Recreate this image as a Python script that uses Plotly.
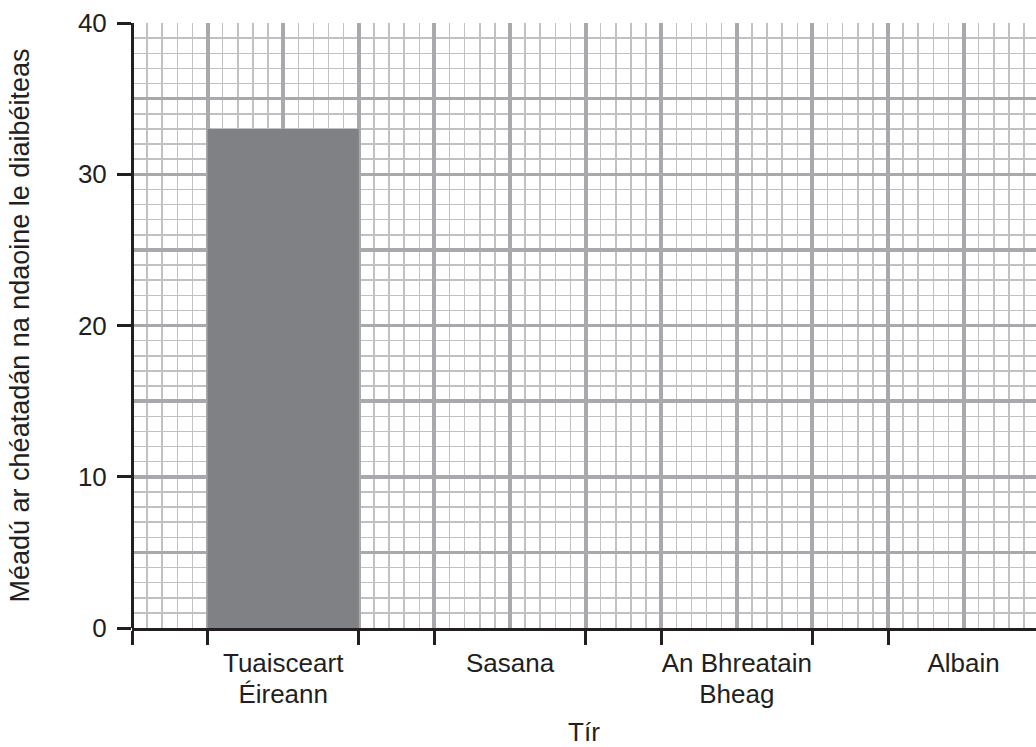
import plotly.graph_objects as go

# ---- data ----
countries = ["Tuaisceart Éireann", "Sasana", "An Bhreatain Bheag", "Albain"]
label_line1 = ["Tuaisceart", "Sasana", "An Bhreatain", "Albain"]
label_line2 = ["Éireann", "", "Bheag", ""]
values = [33, None, None, None]
y_tick_values = [0, 10, 20, 30, 40]
y_title = "Méadú ar chéatadán na ndaoine le diaibéiteas"
x_title = "Tír"

# ---- layout geometry (units of major grid cells) ----
BAR_W = 2
GAP = 1
centers = [GAP + BAR_W / 2 + i * (BAR_W + GAP) for i in range(len(countries))]
edges = [0]
for c in centers:
    edges += [c - BAR_W / 2, c + BAR_W / 2]
edges = sorted(set(edges))

W, H = 1036, 747
ML, MT = 132, 23
PX_PER_CELL = 75.6
PLOT_H = 605
MR = 0
MB = H - MT - PLOT_H
X_MAX = (W - ML - MR) / PX_PER_CELL   # plot runs off the right edge, as in the reference

INK = "#231f20"
MAJOR = "#a7a9ac"
MINOR = "#bfc1c3"
FONT = "Liberation Sans, Arial, sans-serif"
FS = 26

fig = go.Figure()
fig.add_trace(go.Bar(x=centers, y=values, width=BAR_W, marker=dict(color="#808184", line=dict(width=0)),
                     xaxis="x", yaxis="y", showlegend=False, hoverinfo="skip"))
for xa in ["x2", "x3", "x4"]:
    fig.add_trace(go.Scatter(x=[None], y=[None], xaxis=xa, yaxis="y2", showlegend=False, hoverinfo="skip"))

common = dict(fixedrange=True, automargin=False)

fig.update_layout(
    width=W, height=H,
    margin=dict(l=ML, r=MR, t=MT, b=MB, pad=0, autoexpand=False),
    paper_bgcolor="white", plot_bgcolor="white",
    font=dict(family=FONT, size=FS, color=INK),
    showlegend=False, hovermode=False,
    # grid axes
    xaxis=dict(range=[0, X_MAX], tick0=0, dtick=1, showgrid=True, gridcolor=MAJOR, gridwidth=4,
               minor=dict(tick0=0, dtick=0.2, showgrid=True, gridcolor=MINOR, gridwidth=1.5, ticks=""),
               showticklabels=False, ticks="", zeroline=False, showline=False, **common),
    yaxis=dict(range=[0, 40], tick0=0, dtick=5, showgrid=True, gridcolor=MAJOR, gridwidth=3.5,
               minor=dict(tick0=0, dtick=1, showgrid=True, gridcolor=MINOR, gridwidth=1.5, ticks=""),
               showticklabels=False, ticks="", zeroline=False, showline=False, **common),
    # tick marks at category edges + x axis line + y axis line (zero line)
    xaxis2=dict(overlaying="x", range=[0, X_MAX], tickmode="array", tickvals=edges,
                ticks="outside", ticklen=14, tickwidth=3, tickcolor=INK,
                showticklabels=False, showgrid=False,
                zeroline=True, zerolinecolor=INK, zerolinewidth=3,
                showline=True, linecolor=INK, linewidth=3, side="bottom", **common),
    # category labels at centres (first and second lines)
    xaxis3=dict(overlaying="x", range=[0, X_MAX], tickmode="array", tickvals=centers, ticktext=label_line1,
                ticks="", showgrid=False, zeroline=False, showline=False, side="bottom",
                tickfont=dict(family=FONT, size=FS, color=INK), ticklabelstandoff=17, **common),
    xaxis4=dict(overlaying="x", range=[0, X_MAX], tickmode="array", tickvals=centers, ticktext=label_line2,
                ticks="", showgrid=False, zeroline=False, showline=False, side="bottom",
                tickfont=dict(family=FONT, size=FS, color=INK), ticklabelstandoff=48,
                title=dict(text=x_title, font=dict(family=FONT, size=FS, color=INK), standoff=14),
                **common),
    yaxis2=dict(overlaying="y", range=[0, 40], tickmode="array", tickvals=y_tick_values,
                ticks="outside", ticklen=14, tickwidth=3, tickcolor=INK,
                showgrid=False, zeroline=False, showline=False,
                side="left", tickfont=dict(family=FONT, size=FS, color=INK), ticklabelstandoff=5,
                title=dict(text=y_title, font=dict(family=FONT, size=27, color=INK), standoff=40),
                **common),
)

fig.write_html("out.html", config={"displayModeBar": False, "staticPlot": True},
               post_script="document.body.style.margin='0';")
